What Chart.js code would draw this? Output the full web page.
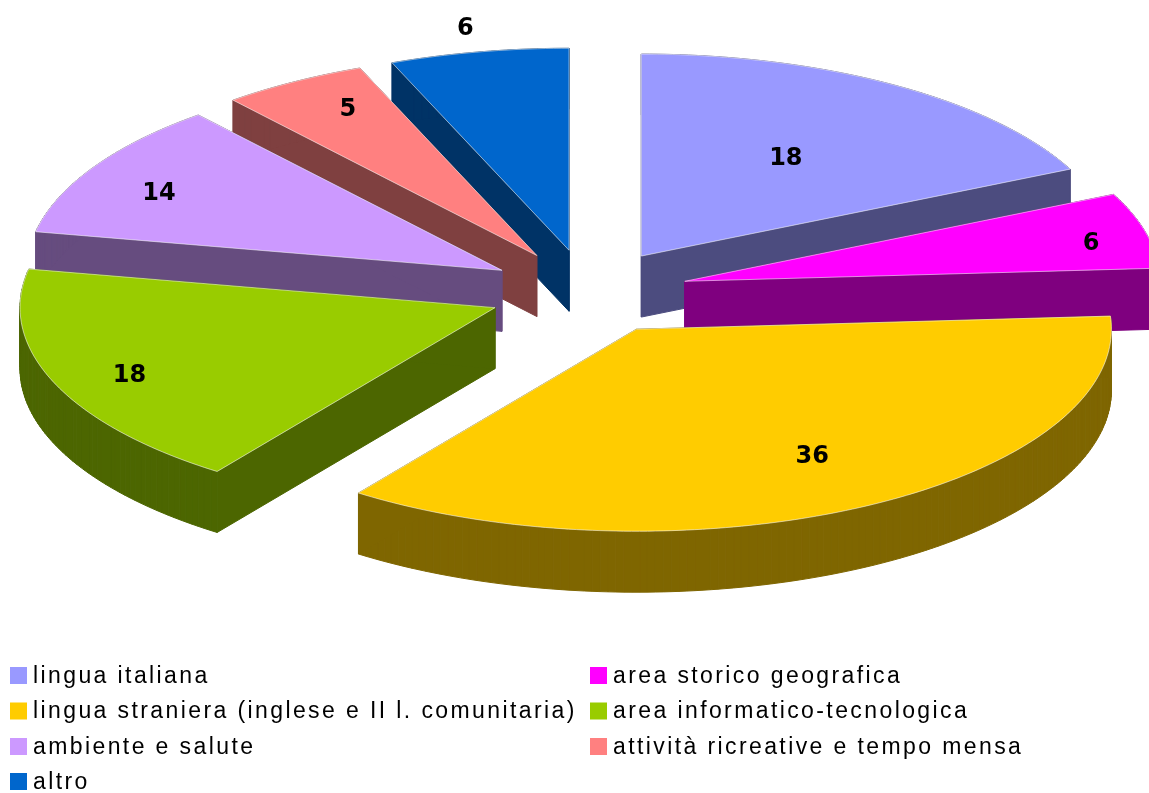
<!DOCTYPE html>
<html><head><meta charset="utf-8">
<style>html,body{margin:0;padding:0;background:#fff}canvas{display:block}</style>
<script src="https://cdn.jsdelivr.net/npm/chart.js@4"></script>
</head><body><canvas id="c" width="1149" height="793"></canvas>
<script>
const categories = ["lingua italiana","area storico geografica","lingua straniera (inglese e II l. comunitaria)","area informatico-tecnologica","ambiente e salute","attività ricreative e tempo mensa","altro"];
const values = [18,6,36,18,14,5,6];
const colors = ["#9999FF","#FF00FF","#FFCC00","#99CC00","#CC99FF","#FF8080","#0066CC"];

// view of the pie plane
const ellipseW = 475, ellipseH = 202, depth = 61;
// the 3D view's angular distortion: [true angle, shift] in degrees
const viewWarp = [[0,0],[62.9,1.6],[83.9,2.4],[209.7,6.1],[272.6,8.4],[321.5,-1.3],[339,-0.9],[360,0]];
const drawOrder = [0,6,5,4,1,3,2];
const labelRadius = [0.57,0.875,0.73,0.84,0.815,0.825,1.12];
const labelAngle = [0,2.5,-1.5,-2,-3,2,-0.3];

function warp(deg){
  for(let i=1;i<viewWarp.length;i++){
    const a=viewWarp[i-1],b=viewWarp[i];
    if(deg<=b[0]) return deg+a[1]+(b[1]-a[1])*(deg-a[0])/(b[0]-a[0]);
  }
  return deg;
}
const toClock = rad => { let d=(rad+Math.PI/2)*180/Math.PI; return d; };
const toRad = deg => (deg-90)*Math.PI/180;
function halve(hex){
  const n=parseInt(hex.slice(1),16);
  return `rgb(${(n>>16&255)>>1},${(n>>8&255)>>1},${(n&255)>>1})`;
}
function geom(arc){
  const sx=ellipseW/arc.outerRadius, sy=ellipseH/arc.outerRadius;
  const a0=toRad(warp(toClock(arc.startAngle))), a1=toRad(warp(toClock(arc.endAngle)));
  const mid=(a0+a1)/2, off=(arc.options.offset||0)/4;
  const tx=arc.x+Math.cos(mid)*off*sx, ty=arc.y+Math.sin(mid)*off*sy;
  return {a0,a1,mid,tx,ty,at:(a,f=1)=>[tx+Math.cos(a)*ellipseW*f, ty+Math.sin(a)*ellipseH*f]};
}
function outline(g){
  const pts=[[g.tx,g.ty]], n=Math.max(8,Math.round((g.a1-g.a0)*60));
  for(let i=0;i<=n;i++) pts.push(g.at(g.a0+(g.a1-g.a0)*i/n));
  return pts;
}
function poly(ctx,pts){ctx.beginPath();pts.forEach((p,i)=>i?ctx.lineTo(p[0],p[1]):ctx.moveTo(p[0],p[1]));ctx.closePath();}

const pie3d = {
  id:'pie3d',
  beforeDatasetDraw(chart,args){
    const ctx=chart.ctx, arcs=chart.getDatasetMeta(args.index).data;
    ctx.save();
    drawOrder.forEach(i=>{
      const arc=arcs[i], col=arc.options.backgroundColor, g=geom(arc), pts=outline(g), dark=halve(col);
      ctx.fillStyle=dark; ctx.strokeStyle=dark; ctx.lineWidth=1; ctx.lineJoin='round';
      pts.forEach((p,k)=>{
        const q=pts[(k+1)%pts.length];
        poly(ctx,[p,q,[q[0],q[1]+depth],[p[0],p[1]+depth]]);
        ctx.fill(); ctx.stroke();
      });
      poly(ctx,pts); ctx.fillStyle=col; ctx.fill();
      ctx.strokeStyle='rgba(255,255,255,0.55)'; ctx.lineWidth=1; ctx.stroke();
    });
    ctx.restore();
    return false;
  },
  afterDatasetsDraw(chart){
    const ctx=chart.ctx, arcs=chart.getDatasetMeta(0).data;
    ctx.save();
    ctx.fillStyle='#000'; ctx.font='bold 24px "DejaVu Sans"'; ctx.textAlign='center'; ctx.textBaseline='middle';
    arcs.forEach((arc,i)=>{
      const g=geom(arc), p=g.at(g.mid+labelAngle[i]*Math.PI/180,labelRadius[i]);
      ctx.fillText(String(values[i]),p[0],p[1]);
    });
    // legend in two columns
    const colX=[10,590], rowY=[675.5,711,746.5,781.5];
    ctx.font='23px "Liberation Sans"'; ctx.textAlign='left'; ctx.letterSpacing='2.4px';
    categories.forEach((t,i)=>{
      const x=colX[i%2], y=rowY[Math.floor(i/2)];
      ctx.fillStyle=colors[i]; ctx.fillRect(x,y-8.5,17,17);
      ctx.fillStyle='#000'; ctx.fillText(t,x+23,y+1);
    });
    ctx.restore();
  }
};

new Chart(document.getElementById('c'),{
  type:'pie',
  data:{labels:categories,datasets:[{data:values,backgroundColor:colors,borderWidth:0,offset:173}]},
  options:{
    responsive:false,animation:false,
    layout:{padding:{left:27,right:0,top:0,bottom:209}},
    plugins:{legend:{display:false},tooltip:{enabled:false}}
  },
  plugins:[pie3d]
});
</script></body></html>
